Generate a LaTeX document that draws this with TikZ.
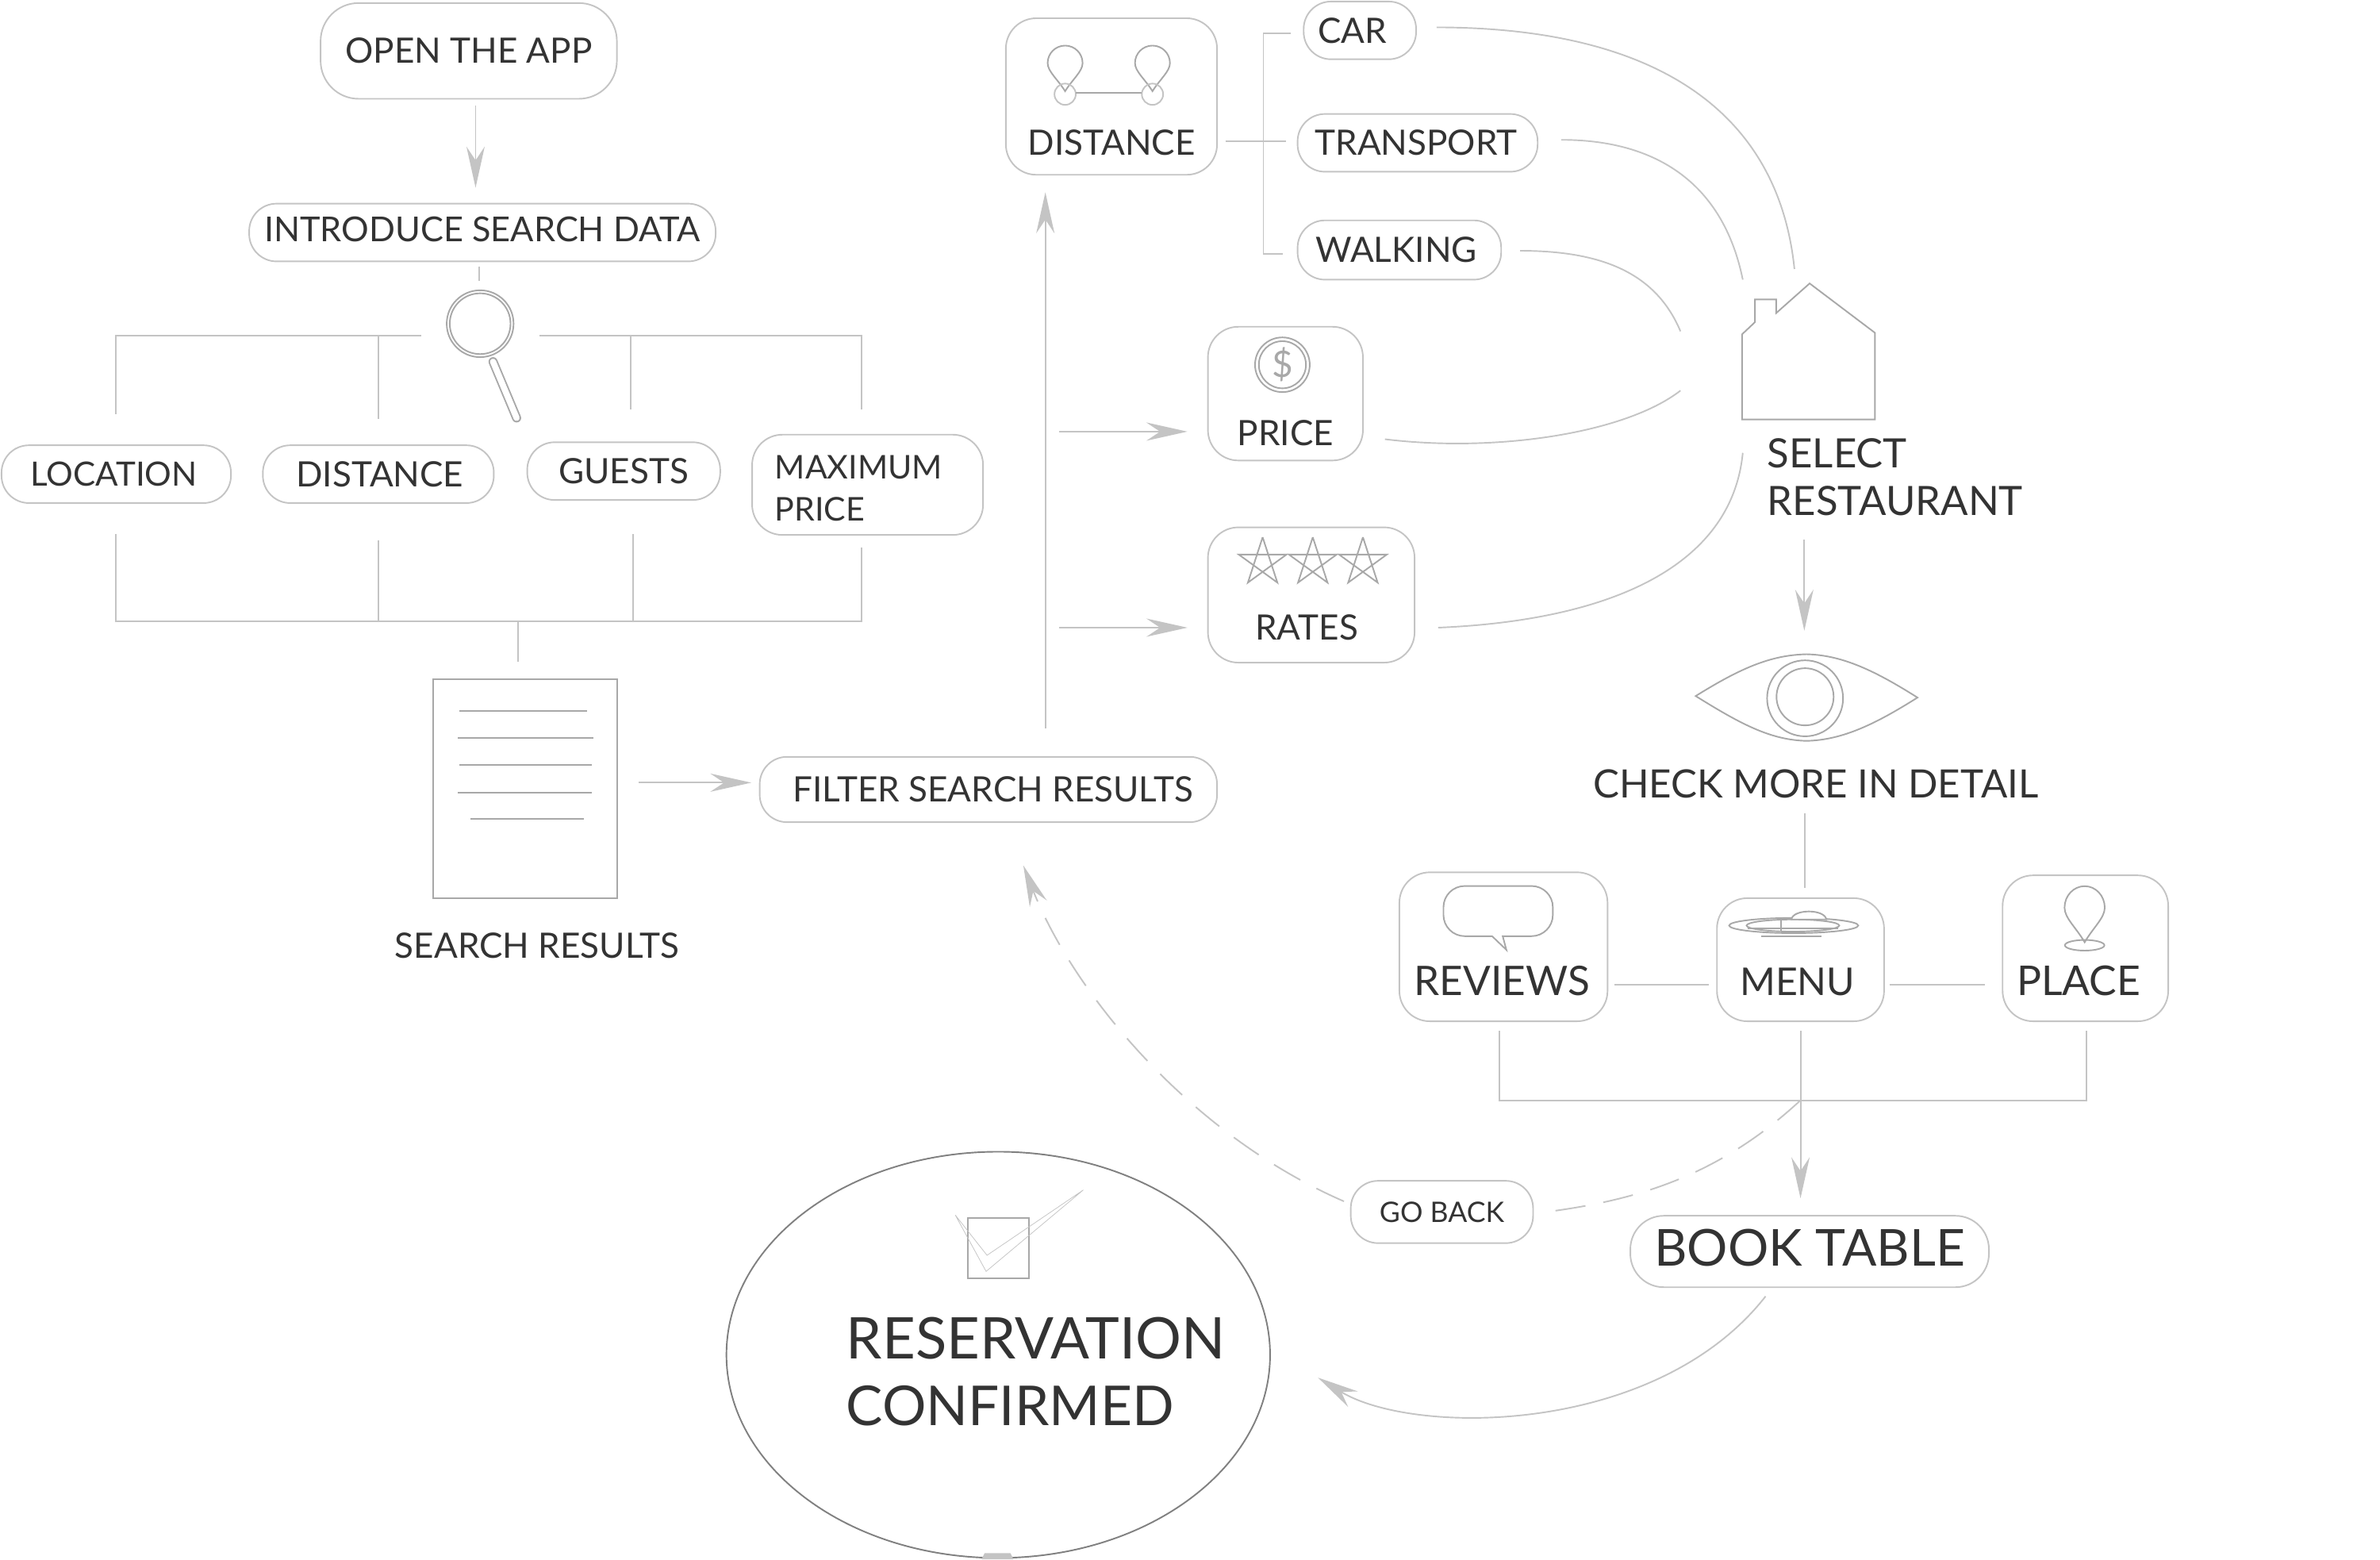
\documentclass[tikz,border=0pt]{standalone}
\usepackage{fontspec}
\setmainfont{Lato}
\usetikzlibrary{arrows.meta,shapes.geometric}
\definecolor{linegray}{HTML}{C4C4C4}
\definecolor{icongray}{HTML}{A8A8A8}
\definecolor{textgray}{HTML}{333333}
\tikzset{
	roundbox/.style={draw=linegray,line width=1pt,inner sep=0pt,text=textgray,font=\fontsize{23}{28}\selectfont,align=center},
	pillbox/.style={roundbox,rounded corners=18pt},
	iconbox/.style 2 args={roundbox,rounded corners=20pt,text height=#1pt,text depth=#2pt},
	plaintext/.style={inner sep=0pt,text=textgray,font=\fontsize{23}{28}\selectfont},
	treeline/.style={draw=linegray,line width=1pt},
	arrowline/.style={treeline,-{Stealth[length=27pt,width=12pt,inset=9pt]}},
	curveline/.style={draw=linegray,line width=1pt},
	iconline/.style={draw=icongray,line width=1pt}
}
\newcommand{\pinmark}[3]{
	\draw[iconline,shift={(#1,#2)},#3] (0,0) .. controls (-5,-8) and (-11.5,-13) .. (-11.5,-18.5)
	arc[start angle=180,end angle=360,radius=11.5] .. controls (11.5,-13) and (5,-8) .. (0,0) -- cycle;
}
\begin{document}
\begin{tikzpicture}[x=1pt,y=-1pt]
	\useasboundingbox (0,0) rectangle (1566.4,1026);

	\node[roundbox,rounded corners=25pt,minimum width=195pt,minimum height=63pt] (openapp) at (308.5,33.5) {OPEN THE APP};
	\node[pillbox,minimum width=307pt,minimum height=38pt,text height=25pt,text depth=13pt,font=\fontsize{22.6}{28}\selectfont] (intro) at (317.5,153) {INTRODUCE SEARCH DATA};
	\node[pillbox,minimum width=151pt,minimum height=38pt,font=\fontsize{22}{28}\selectfont] (location) at (76.5,312) {\hspace*{-3pt}LOCATION};
	\node[pillbox,minimum width=152pt,minimum height=38pt] (distsearch) at (249,312) {DISTANCE\hspace*{-2pt}};
	\node[pillbox,minimum width=127pt,minimum height=38pt] (guests) at (410.5,310) {GUESTS};
	\node[roundbox,rounded corners=20pt,minimum width=152pt,text width=122pt,align=left,text height=29pt,text depth=37pt,font=\fontsize{21.5}{28}\selectfont] (maxprice) at (571,319) {MAXIMUM\\PRICE};

	\node[draw=icongray,line width=1pt,inner sep=0pt,minimum width=121pt,minimum height=144pt] (results) at (345.5,519) {};
	\node[plaintext] (resultstext) at (353.5,622) {SEARCH RESULTS};
	\node[pillbox,minimum width=301pt,minimum height=43pt] (filter) at (650.5,519.5) {\hspace*{6pt}FILTER SEARCH RESULTS};

	\node[iconbox={90}{13},minimum width=139pt] (distance) at (731.5,63.5) {DISTANCE};
	\node[pillbox,minimum width=74pt,minimum height=38pt] (car) at (895,20) {\hspace*{-10pt}CAR};
	\node[pillbox,minimum width=158pt,minimum height=38pt] (transport) at (933,94) {\hspace*{-2pt}TRANSPORT};
	\node[pillbox,minimum width=134pt,minimum height=39pt] (walking) at (921,164.5) {\hspace*{-4pt}WALKING};
	\node[iconbox={78}{10},minimum width=102pt] (price) at (846,259) {PRICE};
	\node[iconbox={74}{15},minimum width=136pt] (rates) at (863,391.5) {\hspace*{-6pt}RATES};

	\node[plaintext,anchor=west,align=left,font=\fontsize{26.6}{31}\selectfont] (select) at (1163,314) {SELECT\\RESTAURANT};
	\node[plaintext,font=\fontsize{25.7}{31}\selectfont] (check) at (1195,516) {CHECK MORE IN DETAIL};

	\node[iconbox={81}{17},minimum width=137pt,font=\fontsize{26.8}{31}\selectfont] (reviews) at (989.5,623) {\hspace*{-2pt}REVIEWS};
	\node[iconbox={64}{17},minimum width=110pt,font=\fontsize{25.2}{31}\selectfont] (menu) at (1185,631.5) {\hspace*{-4pt}MENU};
	\node[iconbox={79}{17},minimum width=109pt,font=\fontsize{27}{31}\selectfont] (place) at (1372.5,624) {\hspace*{-9pt}PLACE};

	\node[pillbox,minimum width=120pt,minimum height=41pt,font=\fontsize{18.6}{23}\selectfont] (goback) at (949,797.5) {GO BACK};
	\node[pillbox,rounded corners=22pt,minimum width=236pt,minimum height=47pt,text height=33pt,text depth=14pt,font=\fontsize{33.5}{42}\selectfont] (book) at (1191,823.5) {BOOK TABLE};
	\node[ellipse,draw=gray,line width=1pt,inner sep=0pt,text=textgray,text width=253pt,align=left,text height=97pt,text depth=92pt,font=\fontsize{36.2}{44}\selectfont] (confirmed) at (657,891.5) {\hspace*{26.5pt}\mbox{\fontsize{37.8}{44}\selectfont RESERVATION}\\\hspace*{26.5pt}CONFIRMED};

	\coordinate (lens) at (316,213);
	\coordinate (topleft) at (76,221);
	\coordinate (topright) at (567,221);
	\coordinate (bottomleft) at (76,409);
	\coordinate (bottomright) at (567,409);
	\coordinate (bookbar) at (1185,724);

	\draw[arrowline] ([shift={(4.5,4)}]openapp.south) -- ([shift={(-4.5,-10)}]intro.north);
	\draw[treeline] ([shift={(-2,3)}]intro.south) -- ([shift={(-0.5,-28)}]lens);

	\draw[treeline] ([shift={(-39,8)}]lens) -- (topleft) -- ([shift={(-0.5,-20)}]location.north);
	\draw[treeline] (topleft -| distsearch.north) -- ([shift={(0,-17)}]distsearch.north);
	\draw[treeline] ([shift={(39,8)}]lens) -- (topright) -- ([shift={(-4,-16)}]maxprice.north);
	\draw[treeline] ([shift={(4.5,-21)}]guests.north) -- (415,221);

	\draw[treeline] ([shift={(-0.5,20)}]location.south) -- (bottomleft) -- (bottomright) -- ([shift={(-4,8)}]maxprice.south);
	\draw[treeline] ([shift={(0,24)}]distsearch.south) -- (bottomleft -| distsearch.south);
	\draw[treeline] ([shift={(6,22)}]guests.south) -- (416.5,409);
	\draw[treeline] (341,409) -- ([shift={(-4.5,-11)}]results.north);

	\draw[arrowline] ([shift={(14,-4)}]results.east) -- ([shift={(-5,-4.5)}]filter.west);
	\draw[arrowline] ([shift={(37.5,-18)}]filter.north) -- ([shift={(-43.5,11)}]distance.south);
	\draw[arrowline] (697,284) -- ([shift={(-13,25)}]price.west);
	\draw[arrowline] (697,413) -- ([shift={(-13,21.5)}]rates.west);

	\draw[treeline] ([shift={(5,29.5)}]distance.east) -- ([shift={(-7,-1)}]transport.west);
	\draw[treeline] ([shift={(-8,2)}]car.west) -- (831.5,22) -- (831.5,167) -- ([shift={(-9,2.5)}]walking.west);

	\draw[curveline] ([shift={(13,-2)}]car.east) .. controls (1085,18) and (1170,70) .. (1181,177);
	\draw[curveline] ([shift={(15,-2)}]transport.east) .. controls (1095,92) and (1135,125) .. (1147,184);
	\draw[curveline] ([shift={(12,0.5)}]walking.east) .. controls (1055,165) and (1090,180) .. (1106,218);
	\draw[curveline] ([shift={(14,30)}]price.east) .. controls (985,298) and (1070,285) .. (1106,257);
	\draw[curveline] ([shift={(15,21.5)}]rates.east) .. controls (1065,408) and (1140,370) .. (1147,298);

	\draw[arrowline] (1187.5,355) -- (1187.5,415);
	\draw[treeline] (1188,535) -- ([shift={(3,-6)}]menu.north);
	\draw[treeline] ([shift={(4,25)}]reviews.east) -- ([shift={(-5,16.5)}]menu.west);
	\draw[treeline] ([shift={(3,16.5)}]menu.east) -- ([shift={(-11,24)}]place.west);

	\draw[treeline] ([shift={(-2.5,6)}]reviews.south) -- (987,724) -- (1373,724) -- ([shift={(0.5,6)}]place.south);
	\draw[arrowline] ([shift={(0,6)}]menu.south) -- ([shift={(-6,-11)}]book.north);

	\draw[treeline,dash pattern=on 20pt off 12pt] (bookbar) .. controls (1130,775) and (1075,790) .. ([shift={(8,0)}]goback.east);
	\draw[treeline,dash pattern=on 20pt off 12pt,-{Stealth[length=27pt,width=12pt,inset=9pt]}] ([shift={(-4,-7)}]goback.west) .. controls (780,745) and (705,650) .. ([shift={(174,28)}]filter.south west);

	\draw[curveline,-{Stealth[length=27pt,width=12pt,inset=9pt]}] ([shift={(-29,5.5)}]book.south) .. controls (1090,945) and (930,945) .. ([shift={(31,15)}]confirmed.east);
	\fill[linegray] (646,1026) -- (648,1022) -- (665,1022) -- (667,1026) -- cycle;

	\draw[iconline] (results.north west) ++(18,21.5) -- ++(84,0);
	\draw[iconline] (results.north west) ++(17,39) -- ++(89,0);
	\draw[iconline] (results.north west) ++(18,57) -- ++(87,0);
	\draw[iconline] (results.north west) ++(17,75) -- ++(88,0);
	\draw[iconline] (results.north west) ++(25,92.5) -- ++(75,0);

	\draw[iconline] (lens) circle (22);
	\draw[iconline] (lens) circle (20);
	\draw[iconline,double=white,double distance=4pt,line cap=round] (324.5,238) -- (340,275);

	\pinmark{701}{60}{}
	\pinmark{758.5}{60}{}
	\draw[iconline,draw=linegray] (701,62) circle (7);
	\draw[iconline,draw=linegray] (758.5,62) circle (7);
	\draw[iconline] (708,61) -- (751.5,61);

	\draw[iconline] (844,240) circle (18);
	\draw[iconline] (844,240) circle (15.5);
	\node[text=icongray,inner sep=0pt,font=\fontsize{24}{24}\selectfont] (dollar) at (844,240) {\$};

	\foreach \sx in {831,864,897}
		\draw[iconline] plot[samples at={0,...,5}] ({\sx+16.5*cos(-90+144*\x)},{370+16.5*sin(-90+144*\x)});

	\draw[iconline] (1146.5,276) -- (1234,276) -- (1234,219) -- (1191,186.5) -- (1169,206) -- (1169,197) -- (1155,197) -- (1155,212) -- (1146.5,220) -- cycle;

	\draw[iconline] (1116,458) .. controls (1145,440) and (1165,431) .. (1189,430.5) .. controls (1213,431) and (1235,442) .. (1262,459)
	.. controls (1235,476) and (1213,487) .. (1189,487.5) .. controls (1165,487) and (1145,476) .. (1116,458) -- cycle;
	\draw[iconline] (1188,459.5) circle (25);
	\draw[iconline] (1188,458.5) circle (18.8);

	\draw[iconline] (982,616) -- (991.4,625) -- (989,616) -- (1006,616) [rounded corners=14pt] -- (1022,616) -- (1022,583) -- (950,583) -- (950,616) -- (982,616);

	\draw[iconline] (1180.5,609) ellipse (42.5 and 5);
	\draw[iconline] (1180,609) ellipse (30.5 and 4);
	\draw[iconline,fill=white] (1179,605) .. controls (1180,598) and (1201,598) .. (1202,605) -- cycle;
	\draw[iconline] (1150,611) -- (1210,611);
	\draw[iconline] (1159,616) -- (1199,616);
	\draw[iconline] (1172,604) -- (1172,613);

	\pinmark{1372}{620}{xscale=1.15,yscale=1.23}
	\draw[iconline] (1372,622) ellipse (13 and 3.5);

	\draw[iconline] (637,801.5) rectangle (677,841);
	\draw[draw=linegray] (628.7,799.5) -- (649,836.6) -- (713,783) -- (649.6,826) -- cycle;
\end{tikzpicture}
\end{document}
